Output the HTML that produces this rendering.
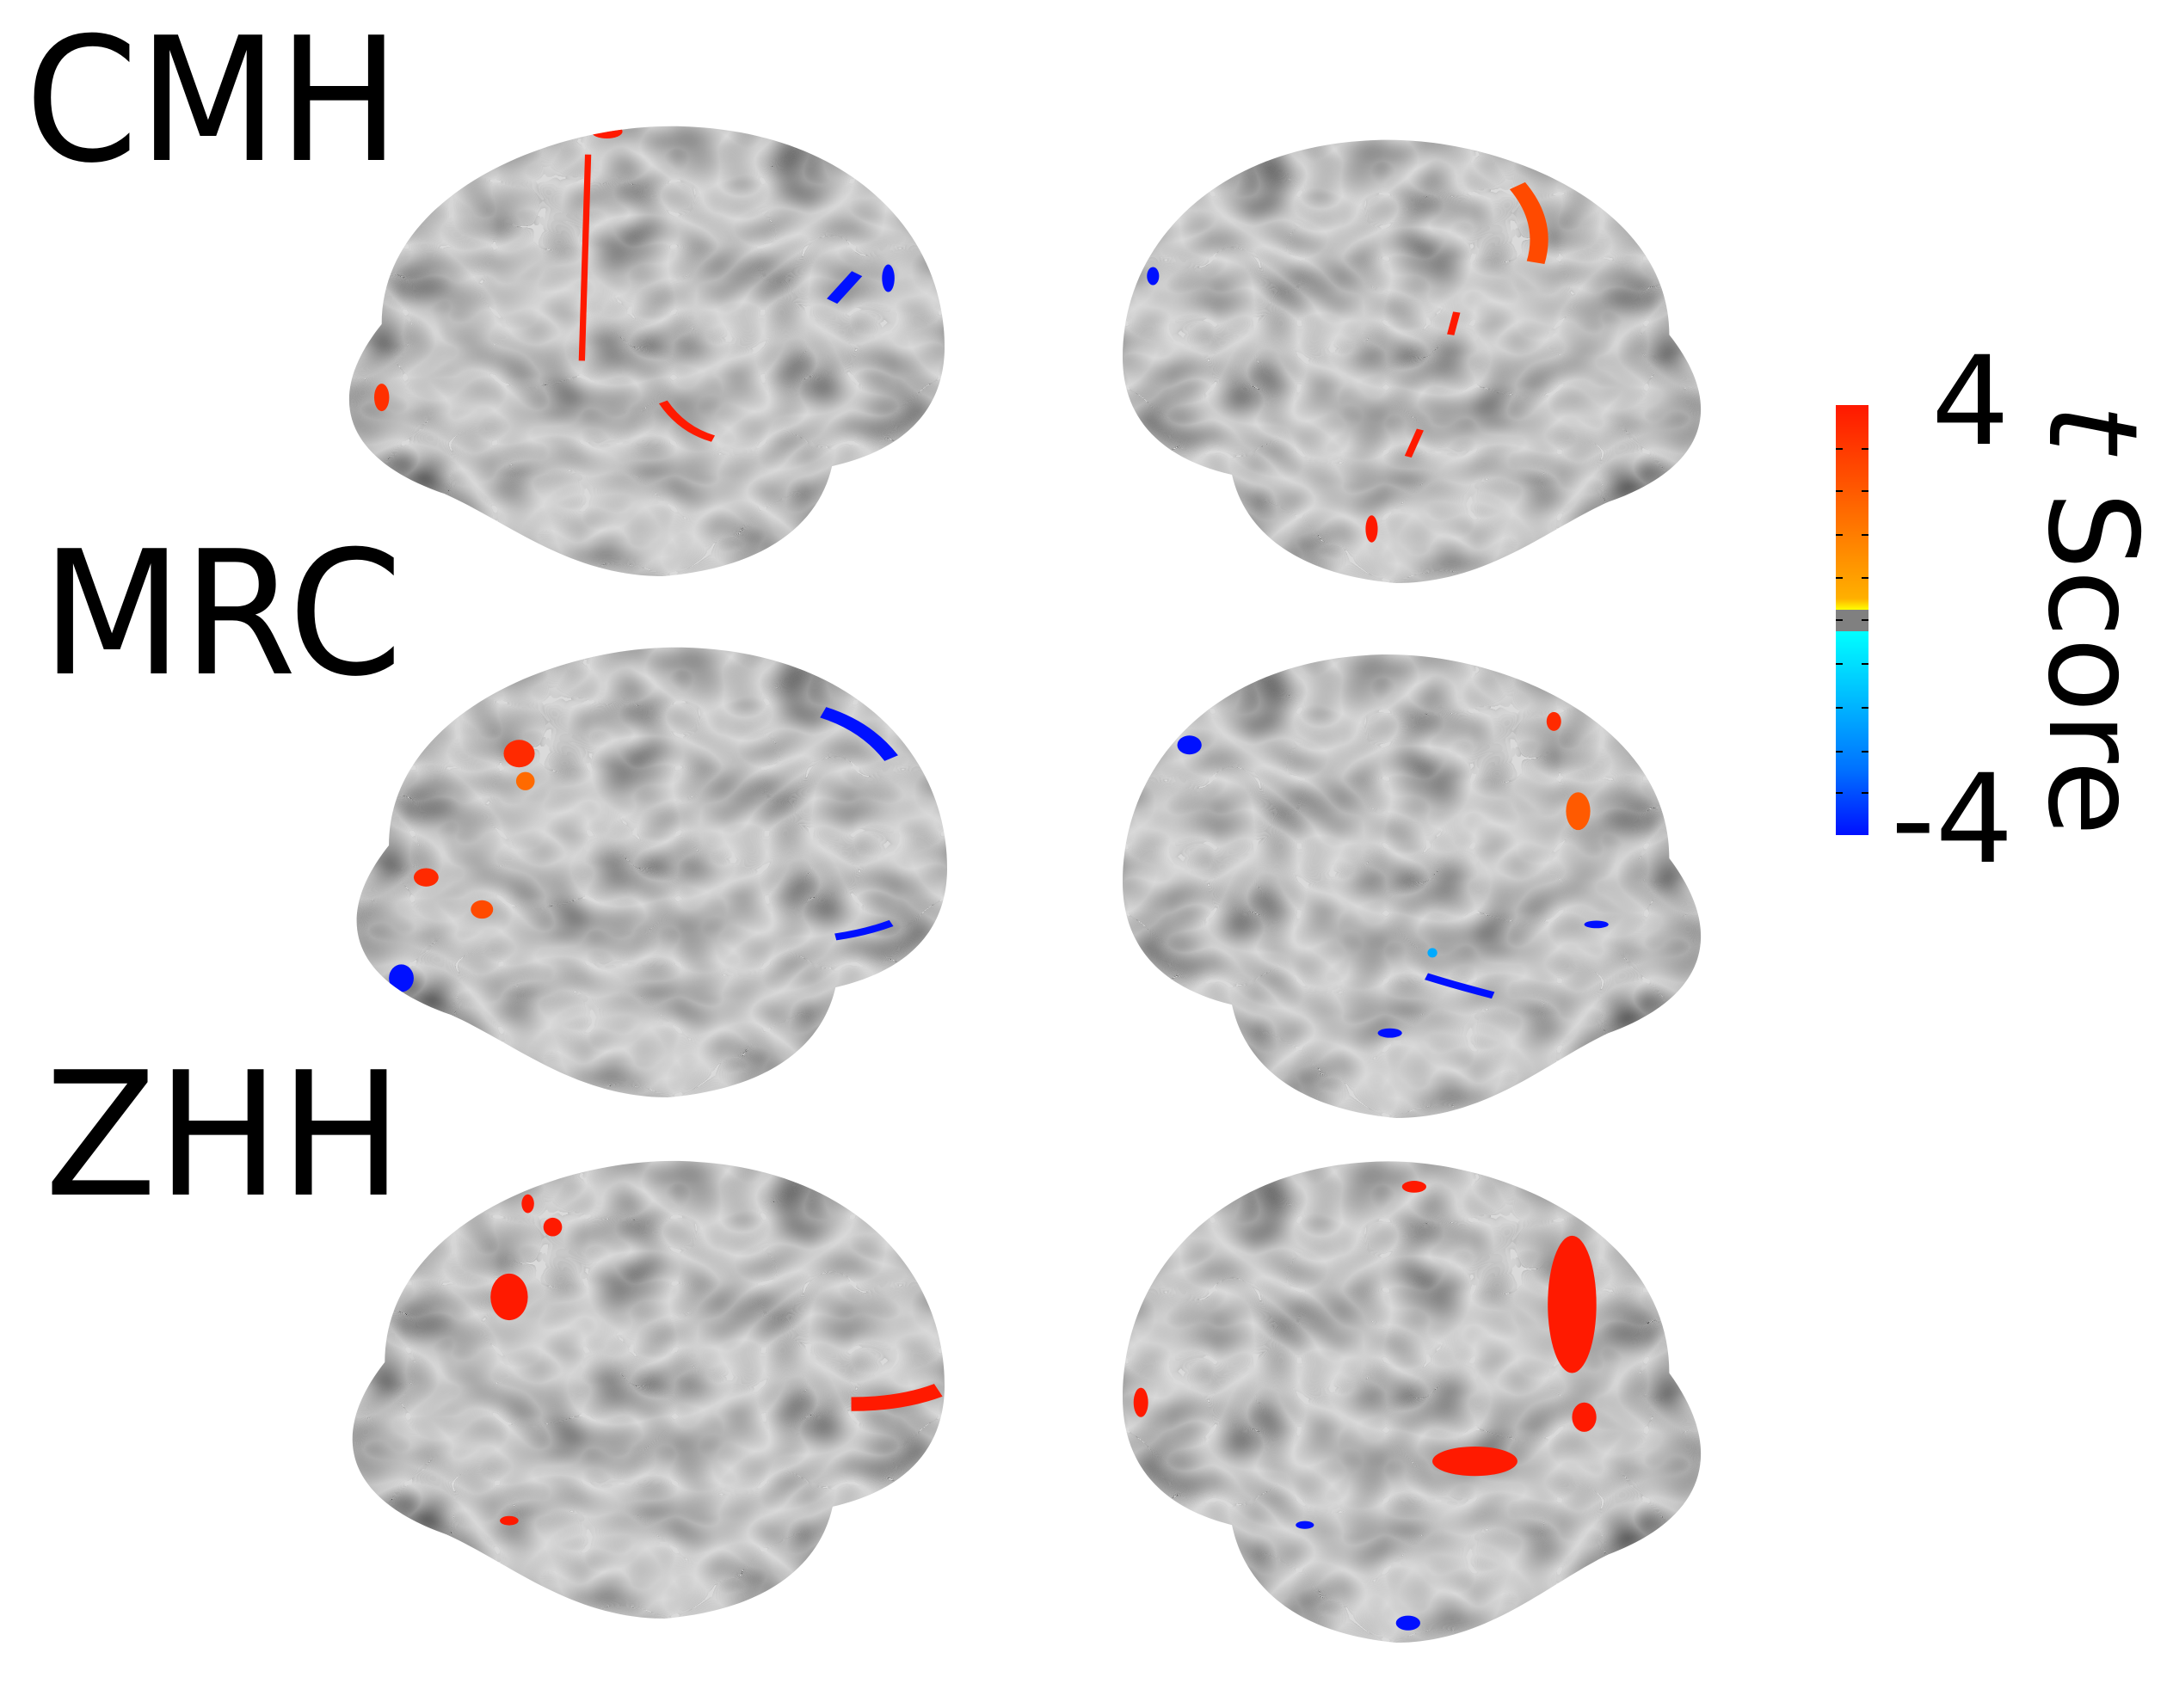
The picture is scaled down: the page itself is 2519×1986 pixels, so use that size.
<!DOCTYPE html>
<html><head><meta charset="utf-8"><style>
html,body{margin:0;padding:0;background:#fff;}
svg{display:block;}
text{font-family:"DejaVu Sans","Liberation Sans",sans-serif;fill:#000;}
</style></head><body>
<svg width="2519" height="1986" viewBox="0 0 2519 1986" xmlns="http://www.w3.org/2000/svg">
<defs>
<filter id="tex" x="0" y="0" width="1" height="1">
<feTurbulence type="turbulence" baseFrequency="0.07" numOctaves="2" seed="7" result="n"/>
<feColorMatrix in="n" type="matrix" values="-0.85 0 0 0 0.70  -0.85 0 0 0 0.70  -0.85 0 0 0 0.70  0 0 0 0 1" result="g"/>
<feComposite in="g" in2="SourceGraphic" operator="in"/>
</filter>
<linearGradient id="cbar" x1="0" y1="0" x2="0" y2="1">
<stop offset="0" stop-color="#ff1800"/>
<stop offset="0.2" stop-color="#ff5a00"/>
<stop offset="0.45" stop-color="#ffb000"/>
<stop offset="0.476" stop-color="#ffff00"/>
<stop offset="0.476" stop-color="#808080"/>
<stop offset="0.526" stop-color="#808080"/>
<stop offset="0.526" stop-color="#00ffff"/>
<stop offset="0.7" stop-color="#00b4ff"/>
<stop offset="0.85" stop-color="#0070ff"/>
<stop offset="1" stop-color="#0010ff"/>
</linearGradient>
<path id="lh" d="M 10,45 C 10,15 40,0 60,2 C 85,4 100,25 100,50 C 100,62 95,72 82,76 C 80,88 72,98 55,100 C 40,100 30,88 20,82 C 5,75 0,62 10,45 Z"/>
<clipPath id="clip"><use href="#lh"/></clipPath>
</defs>

<text x="29" y="186" font-size="200" textLength="436" lengthAdjust="spacingAndGlyphs">CMH</text>
<text x="48" y="783" font-size="200" textLength="420" lengthAdjust="spacingAndGlyphs">MRC</text>
<text x="52" y="1389" font-size="200" textLength="416" lengthAdjust="spacingAndGlyphs">ZHH</text>

<g transform="translate(371,137) scale(7.27,5.33)">
<use href="#lh" fill="#999" filter="url(#tex)"/>
<g clip-path="url(#clip)">
<ellipse cx="46" cy="3" rx="2.5" ry="1.5" fill="#ff1a00"/>
<path d="M43,8 L42,53" stroke="#ff1a00" stroke-width="1" fill="none"/>
<path d="M55,62 Q58,68 63,70" stroke="#ff1a00" stroke-width="1.5" fill="none"/>
<ellipse cx="10" cy="61" rx="1.2" ry="3" fill="#ff3000"/>
<path d="M82,40 L86,34" stroke="#0010ff" stroke-width="2" fill="none"/>
<ellipse cx="91" cy="35" rx="1" ry="3" fill="#0010ff"/>
</g></g>
<g transform="translate(380,743) scale(7.21,5.33)">
<use href="#lh" fill="#999" filter="url(#tex)"/>
<g clip-path="url(#clip)">
<ellipse cx="31" cy="25" rx="2.5" ry="3" fill="#ff2a00"/>
<ellipse cx="32" cy="31" rx="1.5" ry="2" fill="#ff6a00"/>
<ellipse cx="16" cy="52" rx="2" ry="2" fill="#ff2a00"/>
<ellipse cx="25" cy="59" rx="1.8" ry="2" fill="#ff4a00"/>
<ellipse cx="7" cy="27" rx="1" ry="4" fill="#0010ff"/>
<ellipse cx="12" cy="74" rx="2" ry="3" fill="#0010ff"/>
<path d="M80,16 Q87,19 91,26" stroke="#0010ff" stroke-width="2.5" fill="none"/>
<path d="M82,65 Q87,64 91,62" stroke="#0010ff" stroke-width="1.5" fill="none"/>
</g></g>
<g transform="translate(375,1340) scale(7.23,5.42)">
<use href="#lh" fill="#999" filter="url(#tex)"/>
<g clip-path="url(#clip)">
<ellipse cx="30" cy="31" rx="3" ry="5" fill="#ff1a00"/>
<ellipse cx="37" cy="16" rx="1.5" ry="2" fill="#ff1a00"/>
<ellipse cx="33" cy="11" rx="1" ry="2" fill="#ff1a00"/>
<path d="M85,54 Q93,54 99,51" stroke="#ff1a00" stroke-width="3" fill="none"/>
<ellipse cx="30" cy="79" rx="1.5" ry="1" fill="#ff1a00"/>
</g></g>

<g transform="translate(2011,153) scale(-7.06,5.25)">
<use href="#lh" fill="#999" filter="url(#tex)"/>
<g clip-path="url(#clip)">
<path d="M35,12 Q30,20 32,29" stroke="#ff4a00" stroke-width="3" fill="none"/>
<path d="M45,40 L46,45" stroke="#ff1a00" stroke-width="1.2" fill="none"/>
<path d="M51,66 L53,72" stroke="#ff1a00" stroke-width="1.2" fill="none"/>
<ellipse cx="59" cy="88" rx="1" ry="3" fill="#ff1a00"/>
<ellipse cx="95" cy="32" rx="1" ry="2" fill="#0010ff"/>
<ellipse cx="18" cy="11" rx="1.5" ry="1" fill="#0010ff"/>
<ellipse cx="6" cy="43" rx="1" ry="2" fill="#ff1a00"/>
</g></g>
<g transform="translate(2011,751) scale(-7.06,5.49)">
<use href="#lh" fill="#999" filter="url(#tex)"/>
<g clip-path="url(#clip)">
<ellipse cx="29" cy="16" rx="1.2" ry="2" fill="#ff2a00"/>
<ellipse cx="25" cy="35" rx="2" ry="4" fill="#ff5a00"/>
<ellipse cx="7" cy="22" rx="1.2" ry="3" fill="#ff2a00"/>
<ellipse cx="89" cy="21" rx="2" ry="2" fill="#0010ff"/>
<ellipse cx="49" cy="65" rx="0.8" ry="1" fill="#00aaff"/>
<path d="M50,70 Q45,72 39,74" stroke="#0010ff" stroke-width="1.5" fill="none"/>
<ellipse cx="56" cy="82" rx="2" ry="1" fill="#0010ff"/>
<ellipse cx="22" cy="59" rx="2" ry="0.8" fill="#0010ff"/>
</g></g>
<g transform="translate(2011,1340) scale(-7.06,5.7)">
<use href="#lh" fill="#999" filter="url(#tex)"/>
<g clip-path="url(#clip)">
<ellipse cx="26" cy="31" rx="4" ry="14" fill="#ff1a00"/>
<ellipse cx="14" cy="20" rx="1.5" ry="5" fill="#ff1a00"/>
<ellipse cx="52" cy="7" rx="2" ry="1.2" fill="#ff1a00"/>
<ellipse cx="42" cy="63" rx="7" ry="3" fill="#ff1a00"/>
<ellipse cx="24" cy="54" rx="2" ry="3" fill="#ff1a00"/>
<ellipse cx="97" cy="51" rx="1.2" ry="3" fill="#ff1a00"/>
<ellipse cx="53" cy="96" rx="2" ry="1.5" fill="#0010ff"/>
<ellipse cx="70" cy="76" rx="1.5" ry="0.8" fill="#0010ff"/>
</g></g>

<g>
<rect x="2134" y="471" width="38" height="500" fill="url(#cbar)"/>
<g id="ticks" stroke="#000" stroke-width="2"></g>
<text x="2245" y="516" font-size="143">4</text>
<text x="2198" y="1002" font-size="143">-4</text>
<text transform="translate(2383,470) rotate(90)" font-size="143"><tspan font-style="italic">t</tspan> Score</text>
</g>
</svg>
<script>
const tickValues = [3, 2, 1, 0, -0.1, -1, -2, -3];
const tickYs = [522, 571, 622, 672, 721, 772, 823, 874, 922];
const g = document.getElementById('ticks');
tickYs.forEach(function (y) {
  [[2134, 2142], [2164, 2172]].forEach(function (xs) {
    const l = document.createElementNS('http://www.w3.org/2000/svg', 'line');
    l.setAttribute('x1', xs[0]); l.setAttribute('x2', xs[1]);
    l.setAttribute('y1', y); l.setAttribute('y2', y);
    
    
    g.appendChild(l);
  });
});
</script>
</body></html>
